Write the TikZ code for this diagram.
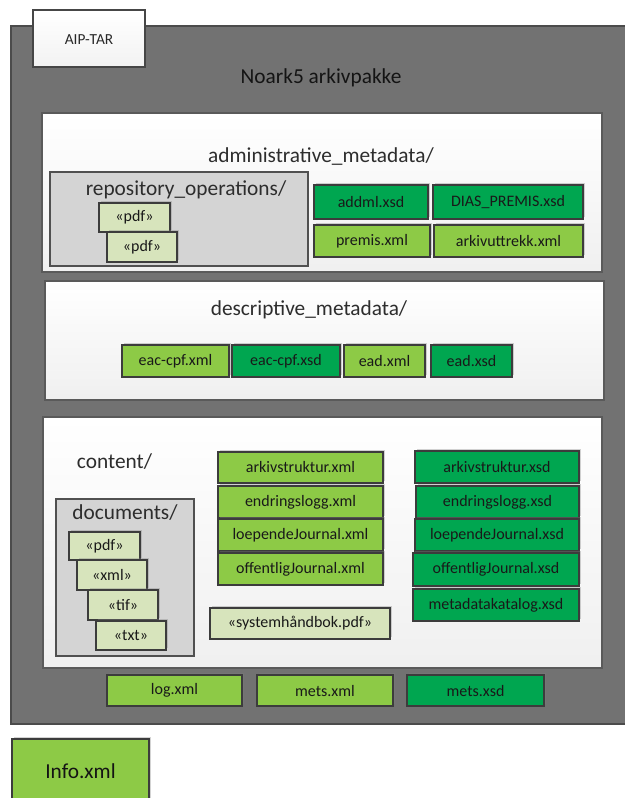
\documentclass[tikz,border=0pt]{standalone}
\usepackage{fontspec}
\setmainfont{Carlito}
\usetikzlibrary{shadows}

\definecolor{lightgreen}{RGB}{141,202,70}
\definecolor{darkgreen}{RGB}{0,166,80}
\definecolor{khaki}{RGB}{215,228,188}
\definecolor{pkggray}{RGB}{114,114,114}
\definecolor{foldergray}{RGB}{212,212,212}

\tikzset{
  filebox/.style={draw={rgb, 255:red, 60; green, 60; blue, 60}, line width=0.9,
    drop shadow={shadow xshift=1.5pt, shadow yshift=1.5pt, opacity=0.35}},
  xmlfile/.style={filebox, fill=lightgreen},
  xsdfile/.style={filebox, fill=darkgreen},
  docfile/.style={filebox, fill=khaki},
  section/.style={draw={rgb, 255:red, 90; green, 90; blue, 90}, line width=0.9, top color=white, bottom color=gray!12},
  folder/.style={draw={rgb, 255:red, 80; green, 80; blue, 80}, line width=0.9, fill=foldergray},
  filelabel/.style={font=\fontsize{12}{14}\selectfont, text={rgb, 255:red, 25; green, 25; blue, 25}},
  heading/.style={font=\fontsize{16}{19}\selectfont, text={rgb, 255:red, 45; green, 45; blue, 45}}
}

\begin{document}
\begin{tikzpicture}[x=0.75pt,y=0.75pt,yscale=-1,xscale=1]
\useasboundingbox (0,0) rectangle (624,798);

%Shape: Rectangle [outer package]
\draw [draw={rgb, 255:red, 75; green, 75; blue, 75}, fill=pkggray, line width=1.2] (11,26) -- (628,26) -- (628,724) -- (11,724) -- cycle ;
%Shape: Rectangle [tab]
\draw [draw={rgb, 255:red, 70; green, 70; blue, 70}, line width=0.9, top color=white, bottom color=gray!10] (33,10) -- (145,10) -- (145,67) -- (33,67) -- cycle ;
%Shape: Rectangle [info]
\draw [xmlfile] (12,739) -- (149,739) -- (149,804) -- (12,804) -- cycle ;

%Shape: Rectangle [administrative]
\draw [section] (42,113) -- (602,113) -- (602,272) -- (42,272) -- cycle ;
%Shape: Rectangle [repository]
\draw [folder] (50,172) -- (308,172) -- (308,266) -- (50,266) -- cycle ;
\draw [docfile] (99,203) -- (170,203) -- (170,232) -- (99,232) -- cycle ;
\draw [docfile] (107,232) -- (177,232) -- (177,262) -- (107,262) -- cycle ;
\draw [xsdfile] (314,185) -- (428,185) -- (428,219) -- (314,219) -- cycle ;
\draw [xsdfile] (433,185) -- (583,185) -- (583,219) -- (433,219) -- cycle ;
\draw [xmlfile] (314,225) -- (430,225) -- (430,257) -- (314,257) -- cycle ;
\draw [xmlfile] (434,225) -- (583,225) -- (583,257) -- (434,257) -- cycle ;

%Shape: Rectangle [descriptive]
\draw [section] (45,281) -- (604,281) -- (604,400) -- (45,400) -- cycle ;
\draw [xmlfile] (122,345) -- (229,345) -- (229,377) -- (122,377) -- cycle ;
\draw [xsdfile] (232,345) -- (340,345) -- (340,377) -- (232,377) -- cycle ;
\draw [xmlfile] (344,345) -- (425,345) -- (425,377) -- (344,377) -- cycle ;
\draw [xsdfile] (431,345) -- (512,345) -- (512,377) -- (431,377) -- cycle ;

%Shape: Rectangle [content]
\draw [section] (43,417) -- (602,417) -- (602,668) -- (43,668) -- cycle ;
\draw [xmlfile] (218,452) -- (383,452) -- (383,483) -- (218,483) -- cycle ;
\draw [xmlfile] (218,486) -- (383,486) -- (383,518) -- (218,518) -- cycle ;
\draw [xmlfile] (218,519) -- (383,519) -- (383,551) -- (218,551) -- cycle ;
\draw [xmlfile] (218,553) -- (383,553) -- (383,585) -- (218,585) -- cycle ;
\draw [xsdfile] (415,451) -- (579,451) -- (579,483) -- (415,483) -- cycle ;
\draw [xsdfile] (416,486) -- (579,486) -- (579,518) -- (416,518) -- cycle ;
\draw [xsdfile] (415,519) -- (579,519) -- (579,551) -- (415,551) -- cycle ;
\draw [xsdfile] (413,553) -- (579,553) -- (579,586) -- (413,586) -- cycle ;
\draw [xsdfile] (413,589) -- (579,589) -- (579,621) -- (413,621) -- cycle ;
%Shape: Rectangle [documents]
\draw [folder] (56,499) -- (194,499) -- (194,656) -- (56,656) -- cycle ;
\draw [docfile] (69,532) -- (140,532) -- (140,560) -- (69,560) -- cycle ;
\draw [docfile] (77,560) -- (147,560) -- (147,590) -- (77,590) -- cycle ;
\draw [docfile] (88,590) -- (158,590) -- (158,620) -- (88,620) -- cycle ;
\draw [docfile] (96,621) -- (166,621) -- (166,650) -- (96,650) -- cycle ;
\draw [docfile] (210,608) -- (390,608) -- (390,639) -- (210,639) -- cycle ;

%Shape: Rectangle [package files]
\draw [xmlfile] (107,675) -- (242,675) -- (242,706) -- (107,706) -- cycle ;
\draw [xmlfile] (257,675) -- (393,675) -- (393,706) -- (257,706) -- cycle ;
\draw [xsdfile] (407,675) -- (544,675) -- (544,706) -- (407,706) -- cycle ;

% Text Node
\draw (89,40) node (aiptar) [font=\fontsize{11.5}{13}\selectfont, text={rgb, 255:red, 40; green, 40; blue, 40}] {AIP-TAR};
% Text Node
\draw (321,78) node (noark) [heading, text={rgb, 255:red, 20; green, 20; blue, 20}] {Noark5 arkivpakke};
% Text Node
\draw (80.5,771) node (info) [heading, text={rgb, 255:red, 20; green, 20; blue, 20}] {Info.xml};

% Text Node
\draw (321,157) node (admin) [heading] {administrative\_metadata/};
% Text Node
\draw (186,190) node (repo) [heading] {repository\_operations/};
% Text Node
\draw (134.5,217.5) node (repopdfa) [filelabel] {«pdf»};
% Text Node
\draw (142,247) node (repopdfb) [filelabel] {«pdf»};
% Text Node
\draw (371,202) node (addml) [filelabel] {addml.xsd};
% Text Node
\draw (508,202) node (dias) [filelabel] {DIAS\_PREMIS.xsd};
% Text Node
\draw (372,241) node (premis) [filelabel] {premis.xml};
% Text Node
\draw (508.5,241) node (uttrekk) [filelabel] {arkivuttrekk.xml};

% Text Node
\draw (309,310) node (descr) [heading] {descriptive\_metadata/};
% Text Node
\draw (175.5,361) node (eacxml) [filelabel] {eac-cpf.xml};
% Text Node
\draw (286,361) node (eacxsd) [filelabel] {eac-cpf.xsd};
% Text Node
\draw (384.5,361) node (eadxml) [filelabel] {ead.xml};
% Text Node
\draw (471.5,361) node (eadxsd) [filelabel] {ead.xsd};

% Text Node
\draw (114.5,462) node (content) [heading] {content/};
% Text Node
\draw (125,513) node (docs) [heading] {documents/};
% Text Node
\draw (104.5,546) node (docpdf) [filelabel] {«pdf»};
% Text Node
\draw (112,575) node (docxml) [filelabel] {«xml»};
% Text Node
\draw (123,605) node (doctif) [filelabel] {«tif»};
% Text Node
\draw (131,635.5) node (doctxt) [filelabel] {«txt»};
% Text Node
\draw (300,623.5) node (manual) [filelabel] {«systemhåndbok.pdf»};
% Text Node
\draw (300.5,467.5) node (strxml) [filelabel] {arkivstruktur.xml};
% Text Node
\draw (300.5,502) node (endxml) [filelabel] {endringslogg.xml};
% Text Node
\draw (300.5,535) node (loepxml) [filelabel] {loependeJournal.xml};
% Text Node
\draw (300.5,569) node (offxml) [filelabel] {offentligJournal.xml};
% Text Node
\draw (497,467) node (strxsd) [filelabel] {arkivstruktur.xsd};
% Text Node
\draw (497.5,502) node (endxsd) [filelabel] {endringslogg.xsd};
% Text Node
\draw (497,535) node (loepxsd) [filelabel] {loependeJournal.xsd};
% Text Node
\draw (496,569.5) node (offxsd) [filelabel] {offentligJournal.xsd};
% Text Node
\draw (496,605) node (metaxsd) [filelabel] {metadatakatalog.xsd};

% Text Node
\draw (174.5,690.5) node (logxml) [filelabel] {log.xml};
% Text Node
\draw (325,690.5) node (metsxml) [filelabel] {mets.xml};
% Text Node
\draw (475.5,690.5) node (metsxsd) [filelabel] {mets.xsd};

\end{tikzpicture}
\end{document}
